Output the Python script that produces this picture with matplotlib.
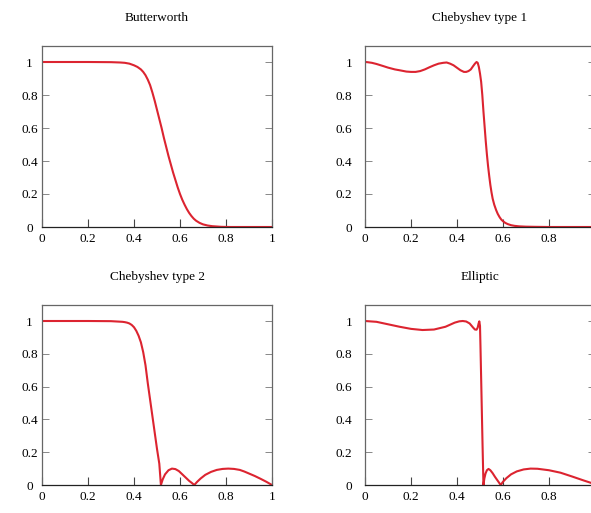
import matplotlib.pyplot as plt

plt.rcParams['font.family'] = ['Liberation Serif', 'DejaVu Serif']
plt.rcParams['font.size'] = 9.5

# values (normalised frequency, |H|)
butter_x = [0, 0.1, 0.2, 0.3, 0.34, 0.36, 0.38, 0.4, 0.415, 0.43, 0.44, 0.45, 0.46,
            0.47, 0.48, 0.49, 0.5, 0.51, 0.52, 0.53, 0.54, 0.55, 0.56, 0.57, 0.58,
            0.59, 0.6, 0.61, 0.62, 0.63, 0.64, 0.65, 0.66, 0.67, 0.685, 0.7, 0.72,
            0.74, 0.78, 0.82, 0.9, 1.0]
butter_y = [1.0, 1.0, 1.0, 0.999, 0.997, 0.995, 0.99, 0.98, 0.97, 0.955, 0.94, 0.92, 0.893,
            0.86, 0.815, 0.765, 0.71, 0.655, 0.6, 0.54, 0.485, 0.43, 0.38, 0.33, 0.285,
            0.24, 0.2, 0.165, 0.135, 0.108, 0.085, 0.066, 0.05, 0.038, 0.025, 0.016, 0.009,
            0.005, 0.001, 0.0, 0.0, 0.0]

cheb1_x = [0, 0.01, 0.03, 0.05, 0.08, 0.1, 0.13, 0.15, 0.18, 0.2, 0.22, 0.24, 0.26,
           0.28, 0.3, 0.32, 0.34, 0.355, 0.37, 0.385, 0.4, 0.415, 0.43, 0.44, 0.45,
           0.46, 0.47, 0.478, 0.485, 0.49, 0.495, 0.5, 0.505, 0.51, 0.515, 0.52,
           0.525, 0.53, 0.535, 0.54, 0.545, 0.55, 0.555, 0.562, 0.57, 0.577, 0.585,
           0.592, 0.6, 0.61, 0.62, 0.635, 0.65, 0.67, 0.7, 0.74, 0.8, 1.0]
cheb1_y = [1.0, 0.999, 0.995, 0.988, 0.975, 0.966, 0.955, 0.95, 0.942, 0.94, 0.94, 0.945, 0.955,
           0.968, 0.98, 0.99, 0.995, 0.997, 0.99, 0.98, 0.965, 0.95, 0.94, 0.94, 0.945,
           0.955, 0.975, 0.99, 1.0, 0.995, 0.97, 0.93, 0.88, 0.8, 0.70, 0.61,
           0.52, 0.44, 0.37, 0.31, 0.255, 0.21, 0.172, 0.135, 0.103, 0.08, 0.06,
           0.046, 0.035, 0.025, 0.018, 0.011, 0.007, 0.004, 0.002, 0.001, 0.0, 0.0]

cheb2_x = [0, 0.2, 0.3, 0.35, 0.36, 0.37, 0.38, 0.39, 0.4, 0.41, 0.42, 0.43, 0.44,
           0.45, 0.46, 0.47, 0.48, 0.49, 0.5, 0.51, 0.517, 0.525, 0.535, 0.55, 0.565,
           0.58, 0.595, 0.61, 0.625, 0.64, 0.652, 0.662, 0.675, 0.69, 0.71, 0.735,
           0.76, 0.785, 0.81, 0.835, 0.86, 0.88, 0.9, 0.925, 0.95, 0.975, 1.0]
cheb2_y = [1.0, 1.0, 0.999, 0.995, 0.993, 0.99, 0.985, 0.976, 0.962, 0.94, 0.91, 0.87, 0.81,
           0.73, 0.62, 0.52, 0.42, 0.32, 0.22, 0.13, 0.0, 0.035, 0.065, 0.09, 0.1,
           0.097, 0.085, 0.065, 0.045, 0.025, 0.012, 0.0, 0.02, 0.04, 0.062, 0.08,
           0.092, 0.098, 0.1, 0.098, 0.092, 0.082, 0.07, 0.055, 0.038, 0.02, 0.0]

ellip_x = [0, 0.05, 0.1, 0.15, 0.2, 0.25, 0.3, 0.35, 0.39, 0.41, 0.425, 0.44, 0.455,
           0.47, 0.478, 0.485, 0.49, 0.494, 0.497, 0.5, 0.502, 0.505, 0.508, 0.511,
           0.515, 0.519, 0.524, 0.53, 0.537, 0.545, 0.555, 0.565, 0.575, 0.585, 0.59,
           0.6, 0.615, 0.635, 0.66, 0.69, 0.72, 0.75, 0.8, 0.85, 0.9, 0.95, 1.0]
ellip_y = [1.0, 0.995, 0.98, 0.965, 0.952, 0.945, 0.948, 0.965, 0.99, 0.998, 1.0, 0.997, 0.985,
           0.96, 0.948, 0.947, 0.96, 0.985, 0.998, 0.97, 0.85, 0.65, 0.45, 0.25,
           0.0, 0.04, 0.07, 0.09, 0.098, 0.09, 0.072, 0.05, 0.03, 0.01, 0.0,
           0.02, 0.042, 0.065, 0.083, 0.095, 0.1, 0.099, 0.09, 0.075, 0.052, 0.028, 0.005]

titles = ["Butterworth", "Chebyshev type 1", "Chebyshev type 2", "Elliptic"]
xticks = [0, 0.2, 0.4, 0.6, 0.8, 1]
xtick_labels = ["0", "0.2", "0.4", "0.6", "0.8", "1"]
yticks = [0, 0.2, 0.4, 0.6, 0.8, 1]
ytick_labels = ["0", "0.2", "0.4", "0.6", "0.8", "1"]

series = [(butter_x, butter_y), (cheb1_x, cheb1_y), (cheb2_x, cheb2_y), (ellip_x, ellip_y)]

# axes boxes in figure fractions (right column runs off the edge, as in the source)
boxes = [
    [42 / 591, 286 / 513, 230 / 591, 181.5 / 513],
    [365 / 591, 286 / 513, 230 / 591, 181.5 / 513],
    [42 / 591, 28 / 513, 230 / 591, 180.4 / 513],
    [365 / 591, 28 / 513, 230 / 591, 180.4 / 513],
]

fig = plt.figure(figsize=(5.91, 5.13), dpi=100)

for i, (title, (xs, ys), box) in enumerate(zip(titles, series, boxes)):
    ax = fig.add_axes(box)
    ax.plot(xs, ys, color='#dc2430', lw=1.5, solid_joinstyle='round')
    ax.set_xlim(0, 1)
    ax.set_ylim(0, 1.1)
    ax.set_xticks(xticks)
    labels = list(xtick_labels)
    if i % 2 == 1:
        labels[-1] = ""  # cropped away in the source image
    ax.set_xticklabels(labels)
    ax.set_yticks(yticks)
    # left column labels sit centred, right column labels flush right
    ax.set_yticklabels(ytick_labels, ha='center' if i % 2 == 0 else 'right')
    ax.tick_params(axis='x', direction='in', length=6, width=0.8, color='#444444',
                   pad=4, top=False)
    ax.tick_params(axis='y', direction='in', length=5, width=0.7, color='#888888',
                   pad=9, right=True)
    for s in ax.spines.values():
        s.set_color('#666666')
        s.set_linewidth(0.9)
    ax.spines['bottom'].set_color('#222222')
    ax.set_title(title, fontsize=9.5, pad=18)

fig.savefig('out.png', dpi=100)
